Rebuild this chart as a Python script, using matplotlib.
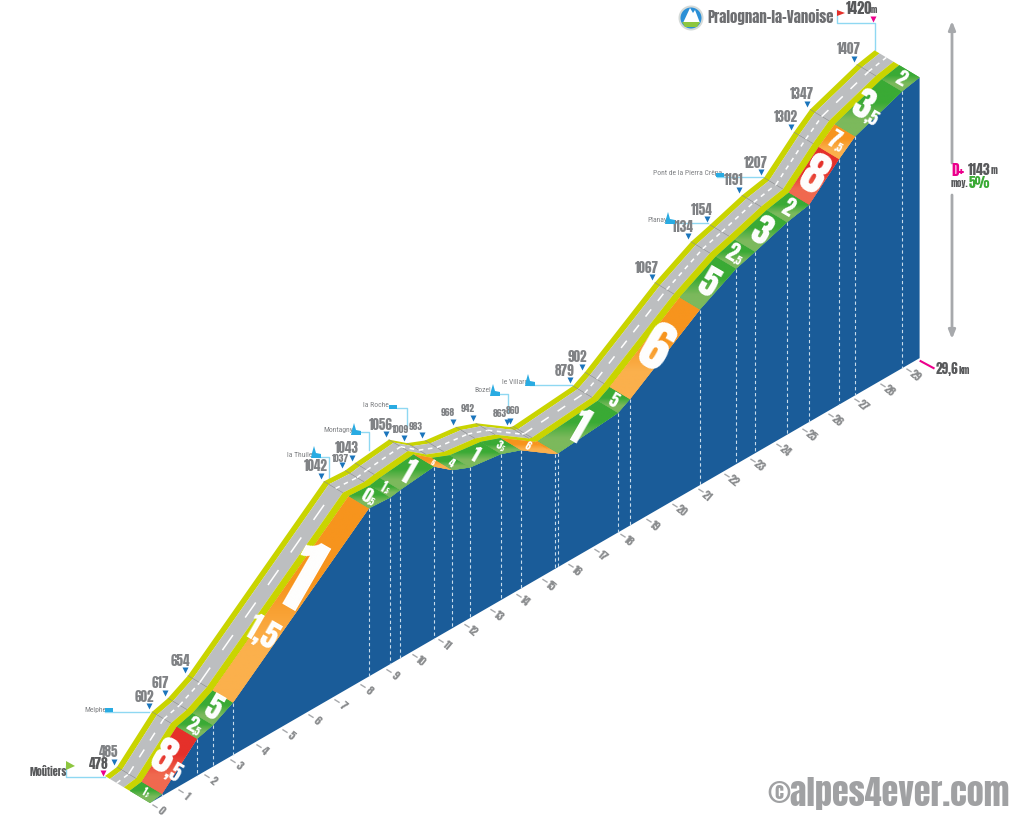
import numpy as np
import matplotlib
matplotlib.use("Agg")
import matplotlib.pyplot as plt
from matplotlib.colors import LinearSegmentedColormap
from matplotlib.patches import Circle, Polygon
from matplotlib.transforms import Affine2D

# impact-like face for figures, narrow one for place names
HEAVY = ['Anton', 'Liberation Sans', 'DejaVu Sans']
NARROW = ['Roboto Condensed', 'Liberation Sans', 'DejaVu Sans']
plt.rcParams['font.family'] = HEAVY

# profile: km and altitude of every waypoint
km = [0, 0.46, 1.81, 2.42, 3.19, 8.42, 9.24, 9.62, 10.92, 11.62, 12.31, 13.5, 14.27,
      15.58, 15.69, 18.0, 18.46, 21.15, 22.54, 23.27, 24.5, 25.35, 26.5, 27.12, 28.92, 29.6]
alt = [478, 485, 602, 617, 654, 1042, 1037, 1043, 1056, 1009, 983, 968, 942,
       863, 860, 879, 902, 1067, 1134, 1154, 1191, 1207, 1302, 1347, 1407, 1420]

# slope bands between waypoints
band_colors = ['g', 'r', 'g', 'g', 'o', 'g', 'g', 'g', 'o', 'g', 'g', 'g', 'o',
               'o', 'g', 'g', 'o', 'g', 'g', 'g', 'g', 'r', 'o', 'g', 'g']
band_main = ['1', '8', '2', '5', '1', '0', '1', '1', '6', '4', '1', '3', '6',
             '', '1', '5', '6', '5', '2', '3', '2', '8', '7', '3', '2']
band_dec = [',5', ',5', ',5', '', '', ',5', ',5', '', '', '', '', ',5', '',
            '', '', '', '', '', ',5', '', '', '', ',5', ',5', '']
band_size = [7, 30, 14, 21, 60, 13, 9, 21, 5, 8, 14, 8, 7, 0, 30, 12, 40, 25, 15, 25, 15, 34, 15, 26, 14]

km_ticks = list(range(30))

# callouts
place_names = ['Melphe', 'la Thuile', 'Montagny', 'la Roche', 'Bozel', 'le Villard', 'Planay',
               'Pont de la Pierra Crêpa']
place_xy = [(95, 710), (300, 455), (338, 430), (376, 405), (483, 390), (515, 382), (657, 220), (688, 173)]
place_lines = [[(105, 712), (149, 712)],
               [(318, 457), (329, 457), (329, 480)],
               [(360, 432), (369, 432), (369, 450)],
               [(397, 408), (407, 408), (407, 427)],
               [(500, 394), (508, 394), (508, 413)],
               [(530, 385), (572, 385)],
               [(673, 223), (708, 223)],
               [(717, 177), (763, 177)]]
icon_xy = [(109, 709), (316, 453), (356, 430), (393, 406), (495, 391), (530, 381), (670, 219), (720, 174)]
icon_big = [False, True, True, False, True, True, True, False]

label_small = {1037, 1009, 983, 968, 942, 863, 860}
# labels that sit off the usual spot above their arrow
label_nudge = {1037: (3, 3), 863: (-2, 1), 860: (8, -1), 1009: (1, 1), 983: (-1, 1)}

BLUE = '#1a5c99'
YELLOW = '#c9d400'
ROAD = '#bcbec0'
LINE = '#8fd8f2'
GREY = '#808285'
DARK = '#58595b'
PINK = '#ec008c'
COLS = {'g': ('#3aaa35', '#7cb95c'), 'o': ('#f7941d', '#fbb04c'), 'r': ('#e5302a', '#f0694f')}
DEPTH = np.array([45.0, 27.0])
BASE = 478

proj = Affine2D(np.array([[26.0, 0.0, 150.0],
                          [-15.03, -0.298, 803.0 + 0.298 * BASE],
                          [0.0, 0.0, 1.0]]))


def to_px(k, a, d=1.0):
    # d=1 is the front edge of the ribbon, d=0 its back edge
    return proj.transform(np.column_stack([k, a])) - (1 - d) * DEPTH


def strip(d0, d1, color, z):
    top = to_px(km, alt, d0)
    bottom = to_px(km, alt, d1)
    ax.add_patch(Polygon(np.vstack([top, bottom[::-1]]), fc=color, ec='none', zorder=z))


fig = plt.figure(figsize=(10.24, 8.19), dpi=100)
ax = fig.add_axes([0, 0, 1, 1])

# blue side
front = to_px(km, alt)
ground = to_px(km, [BASE] * len(km))
ax.add_patch(Polygon(np.vstack([front, ground[::-1]]), fc=BLUE, ec='none', zorder=1))
for i in range(1, len(km) - 1):
    ax.plot([front[i, 0], ground[i, 0]], [front[i, 1], ground[i, 1]], color='#c8dcec',
            lw=0.8, ls=(0, (3, 2.5)), zorder=2)

# road and kerbs
strip(0, 0.11, YELLOW, 3)
strip(0.11, 0.42, ROAD, 3)
strip(0.42, 0.55, YELLOW, 3)

back = to_px(km, alt, 0)
road_edge = to_px(km, alt, 0.42)
for i in range(1, len(km) - 1):
    ax.plot([back[i, 0], road_edge[i, 0]], [back[i, 1], road_edge[i, 1]], color='#8a8c8e', lw=0.4, zorder=4)

mid = to_px(km, alt, 0.26)
for i in range(len(km) - 1):
    seg = np.hypot(*(mid[i + 1] - mid[i]))
    if seg < 1:
        continue
    if seg > 150:
        pat = (12, 14)
    elif seg > 55:
        pat = (6, 7)
    else:
        pat = (3, 3)
    ax.plot(mid[i:i + 2, 0], mid[i:i + 2, 1], color='white', lw=1.1, ls=(0, pat), zorder=4)

# slope bands with a soft vertical gradient
grad = np.linspace(0, 1, 128)[:, None]
inner = to_px(km, alt, 0.55)
for i, c in enumerate(band_colors):
    poly = np.vstack([inner[i:i + 2], front[i:i + 2][::-1]])
    patch = Polygon(poly, fc=COLS[c][0], ec='none', zorder=5)
    ax.add_patch(patch)
    cmap = LinearSegmentedColormap.from_list('b', [(0, COLS[c][0]), (0.42, COLS[c][0]),
                                                   (0.72, COLS[c][1]), (1, COLS[c][1])])
    im = ax.imshow(grad, cmap=cmap, aspect='auto', vmin=0, vmax=1, zorder=5.5,
                   extent=(poly[:, 0].min(), poly[:, 0].max(), poly[:, 1].max(), poly[:, 1].min()))
    im.set_clip_path(patch)

# white figures lying on the bands
along = np.array([np.cos(np.radians(30)), np.sin(np.radians(30))])
down = np.array([-0.5, 0.866])
for i, main in enumerate(band_main):
    if not main or i == 4:
        continue
    centre = (inner[i] + inner[i + 1] + front[i] + front[i + 1]) / 4
    s = band_size[i]
    em = s * 1.39
    dec = band_dec[i]
    shift = along * em * 0.175 if dec else np.zeros(2)
    ax.text(*(centre - shift), main, color='white', fontsize=s,
            rotation=-30, rotation_mode='anchor', ha='center', va='center', zorder=6)
    if dec:
        ax.text(*(centre + along * em * 0.225 + down * em * 0.2), dec, color='white', fontsize=s * 0.5,
                rotation=-30, rotation_mode='anchor', ha='center', va='center', zorder=6)

# long orange band: tall 1 then 1,5
ax.text(300, 579, band_main[4], color='white', fontsize=band_size[4],
        rotation=-30, rotation_mode='anchor', ha='center', va='center', zorder=6)
ax.text(262, 633, '1,5', color='white', fontsize=22,
        rotation=-30, rotation_mode='anchor', ha='center', va='center', zorder=6)

# altitude labels and small arrows
for i, a in enumerate(alt):
    if i == 0:
        continue
    x, y = back[i]
    if a == 1420:
        continue
    ax.plot(x - 3, y - 5.5, marker='v', ms=4.5, color='#1b75bc', mec='none', zorder=7)
    nx, ny = label_nudge.get(a, (0, 0))
    ax.text(x - 8 + nx, y - 15 + ny, str(a), color=GREY, fontsize=6.8 if a in label_small else 9.5,
            ha='center', va='center', zorder=7)

# start
ax.plot([66, 66, back[0, 0]], [766, 777, 777], color=LINE, lw=1, zorder=2)
ax.add_patch(Polygon([(66, 761), (75, 766), (66, 770)], fc='#8dc63f', ec='none', zorder=7))
ax.plot(103, 773, marker='v', ms=5, color=PINK, mec='none', zorder=7)
ax.text(99, 764, str(alt[0]), color=DARK, fontsize=9.5, ha='center', va='center', zorder=7)
ax.text(48, 772, 'Moûtiers', color=DARK, fontsize=7.5, ha='center', va='center', zorder=7)

# places
for name, xy, line, ic, big in zip(place_names, place_xy, place_lines, icon_xy, icon_big):
    ax.text(xy[0], xy[1], name, color=GREY, fontsize=5.5, family=NARROW, ha='center', va='center', zorder=7)
    pts = np.array(line)
    ax.plot(pts[:, 0], pts[:, 1], color=LINE, lw=1, zorder=2)
    if big:
        ax.add_patch(Polygon([(ic[0] - 5, ic[1] + 5), (ic[0] - 4, ic[1]), (ic[0] - 2, ic[1] - 7), (ic[0], ic[1]),
                              (ic[0] + 5, ic[1] + 1), (ic[0] + 5, ic[1] + 5)], fc='#29abe2', ec='none', zorder=7))
    else:
        ax.add_patch(Polygon([(ic[0] - 4, ic[1] + 3), (ic[0] - 4, ic[1] - 1), (ic[0] + 4, ic[1] - 1),
                              (ic[0] + 4, ic[1] + 3)], fc='#29abe2', ec='none', zorder=7))

# summit
tx, ty = back[-1]
ax.plot([837, 837, tx, tx], [10, 23, 23, ty], color=LINE, lw=1, zorder=2)
ax.add_patch(Polygon([(837, 10), (845, 13), (837, 16)], fc='#e5302a', ec='none', zorder=7))
ax.plot(873, 19, marker='v', ms=5, color=PINK, mec='none', zorder=7)
ax.text(846, 9, str(alt[-1]), color=DARK, fontsize=10.5, ha='left', va='center', zorder=7)
ax.text(871, 10, 'm', color=DARK, fontsize=6, ha='left', va='center', zorder=7)
ax.text(707, 17, 'Pralognan-la-Vanoise', color='#6d6e71', fontsize=10.7, ha='left', va='center', zorder=7)

# logo
ax.add_patch(Circle((691, 18), 12.5, fc='#d5dad8', ec='none', zorder=7))
ax.add_patch(Circle((691, 18), 10.5, fc='#2b8fd6', ec='none', zorder=8))
ax.add_patch(Polygon([(683, 23), (690, 8), (693, 13), (695, 10), (700, 23)], fc='white', ec='none', zorder=9))
ax.add_patch(Polygon([(682, 22), (700, 22), (697, 27), (685, 27)], fc='#8dc63f', ec='none', zorder=10))

# height arrow
ax.annotate('', xy=(952, 21), xytext=(952, 163), zorder=3,
            arrowprops=dict(arrowstyle='-|>,head_width=0.2,head_length=0.5', color='#a7a9ac', lw=2, shrinkA=0, shrinkB=0))
ax.annotate('', xy=(952, 339), xytext=(952, 195), zorder=3,
            arrowprops=dict(arrowstyle='-|>,head_width=0.2,head_length=0.5', color='#a7a9ac', lw=2, shrinkA=0, shrinkB=0))
ax.text(951, 170, 'D+', color=PINK, fontsize=11, ha='left', va='center', zorder=7)
ax.text(968, 170, '1143', color=DARK, fontsize=10, ha='left', va='center', zorder=7)
ax.text(991, 171, 'm', color=DARK, fontsize=6.5, ha='left', va='center', zorder=7)
ax.text(951, 184, 'moy.', color=DARK, fontsize=6.5, ha='left', va='center', zorder=7)
ax.text(969, 183, '5%', color='#3aaa35', fontsize=10, ha='left', va='center', zorder=7)

# distance ticks
for k in km_ticks:
    g = proj.transform([[k, BASE]])[0]
    ax.plot([g[0] + 3, g[0] + 7], [g[1] + 2, g[1] + 4.5], color='#a7a9ac', lw=1, zorder=2)
    ax.text(g[0] + 11, g[1] + 8, str(k), color='#8a8c8e', fontsize=8, rotation=-40,
            ha='center', va='center', zorder=2)

end = ground[-1]
ax.plot([end[0] + 1, end[0] + 14], [end[1] + 3, end[1] + 10], color=PINK, lw=1.5, zorder=2)
ax.text(936, 369, '29,6', color=DARK, fontsize=9.5, ha='left', va='center')
ax.text(959, 370, 'km', color=DARK, fontsize=6.5, ha='left', va='center')

ax.text(889, 793, '©alpes4ever.com', color='#a0a1a3', fontsize=24.5, ha='center', va='center', zorder=7)

ax.set_xlim(0, 1024)
ax.set_ylim(819, 0)
ax.axis('off')
fig.savefig('out.png', dpi=100)
